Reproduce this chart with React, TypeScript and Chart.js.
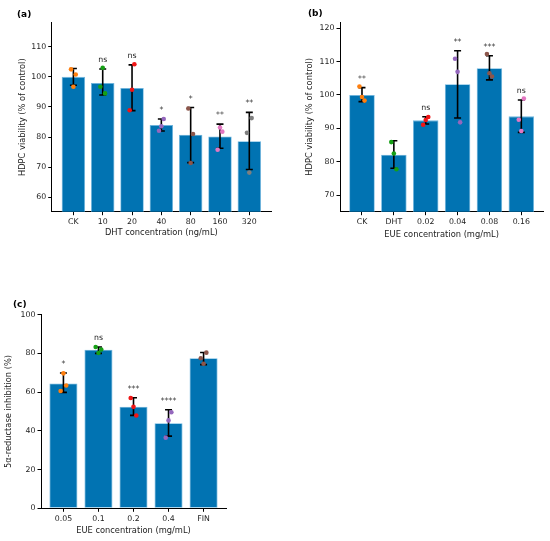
import { useEffect, useRef } from "react";
import { Chart, registerables } from "chart.js";

Chart.register(...registerables);

const FONT = "'DejaVu Sans', sans-serif";
const TEXT = "#222";
const BAR_COLOR = "#0173b2";
const BAR_EDGE = "#6fb6e0";
const DOT_COLORS = ["#ff7f0e", "#16a016", "#f01616", "#9467bd", "#8c564b", "#e377c2", "#7f7f7f"];
// replicate x offset (in category units): left, middle, right
const JITTER = [-0.08, 0, 0.08];

// (a) DHT concentration
const dhtLabels = ["CK", "10", "20", "40", "80", "160", "320"];
const dhtMeans = [100, 98.0, 96.3, 84.0, 80.8, 80.2, 78.6];
const dhtLow = [97.2, 94.0, 88.8, 82.0, 71.5, 76.3, 69.2];
const dhtHigh = [102.8, 102.6, 104.0, 86.0, 89.8, 84.3, 88.2];
const dhtReps = [
  [102.5, 96.7, 100.8],
  [96.7, 103.0, 94.5],
  [88.9, 95.7, 104.2],
  [82.1, 83.6, 86.0],
  [89.5, 71.4, 81.0],
  [75.8, 83.2, 81.8],
  [81.4, 68.2, 86.3],
];
const dhtSig = ["", "ns", "ns", "*", "*", "**", "**"];
const dhtTicks = [60, 70, 80, 90, 100, 110];

// (b) EUE concentration, viability
const eueLabels = ["CK", "DHT", "0.02", "0.04", "0.08", "0.16"];
const eueMeans = [100, 82.1, 92.4, 103.2, 108.0, 93.6];
const eueLow = [98.0, 78.1, 91.3, 93.1, 104.5, 88.8];
const eueHigh = [102.2, 86.3, 93.5, 113.2, 111.7, 98.5];
const eueReps = [
  [102.5, 99.4, 98.3],
  [85.9, 82.5, 77.8],
  [91.1, 92.5, 93.4],
  [110.8, 106.9, 91.8],
  [112.2, 106.5, 105.5],
  [92.6, 89.2, 98.9],
];
const eueSig = ["**", "", "ns", "**", "***", "ns"];
const eueTicks = [70, 80, 90, 100, 110, 120];

// (c) 5α-reductase inhibition
const inhLabels = ["0.05", "0.1", "0.2", "0.4", "FIN"];
const inhMeans = [64.5, 81.9, 52.5, 43.9, 77.5];
const inhLow = [59.9, 80.0, 48.0, 37.3, 74.2];
const inhHigh = [69.9, 83.3, 57.1, 50.9, 80.5];
const inhReps = [
  [60.6, 69.7, 63.4],
  [83.3, 80.2, 82.0],
  [57.0, 52.4, 47.9],
  [36.5, 45.4, 49.6],
  [77.5, 74.7, 80.4],
];
const inhSig = ["*", "ns", "***", "****", ""];
const inhTicks = [0, 20, 40, 60, 80, 100];

type Box = { left: number; top: number; width: number; height: number };
type Area = { left: number; top: number; right: number; bottom: number };

type PanelProps = {
  tag: string;
  tagX: number;
  tagY: number;
  labels: string[];
  means: number[];
  low: number[];
  high: number[];
  reps: number[][];
  sig: string[];
  yMin: number;
  yMax: number;
  yTicks: number[];
  xPad: number;
  xTitle: string;
  yTitle: string;
  box: Box;
  area: Area;
  yTitleX: number;
  xTitleY: number;
};

const Panel = (p: PanelProps) => {
  const canvasRef = useRef<HTMLCanvasElement | null>(null);
  const chartRef = useRef<Chart | null>(null);

  useEffect(() => {
    if (!canvasRef.current) return;
    const ctx = canvasRef.current.getContext("2d");
    if (!ctx) return;
    if (chartRef.current) chartRef.current.destroy();

    const tickSize = 7.8;
    const titleSize = 8.3;

    const dots: { x: number; y: number }[] = [];
    const dotColors: string[] = [];
    p.reps.forEach((group, i) => {
      group.forEach((v, j) => {
        dots.push({ x: i + JITTER[j], y: v });
        dotColors.push(DOT_COLORS[i]);
      });
    });

    const extras = {
      id: "extras",
      afterDatasetDraw(chart: Chart, args: { index: number }) {
        if (args.index !== 1) return;
        const c = chart.ctx;
        const xs = chart.scales.x;
        const ys = chart.scales.y;
        c.save();
        c.strokeStyle = "#000";
        c.lineWidth = 1.6;
        p.means.forEach((_, i) => {
          const x = xs.getPixelForValue(i);
          const y1 = ys.getPixelForValue(p.low[i]);
          const y2 = ys.getPixelForValue(p.high[i]);
          c.beginPath();
          c.moveTo(x, y1);
          c.lineTo(x, y2);
          c.moveTo(x - 3.5, y1);
          c.lineTo(x + 3.5, y1);
          c.moveTo(x - 3.5, y2);
          c.lineTo(x + 3.5, y2);
          c.stroke();
        });
        c.restore();
      },
      afterDatasetsDraw(chart: Chart) {
        const c = chart.ctx;
        const xs = chart.scales.x;
        const ys = chart.scales.y;
        c.save();
        c.fillStyle = TEXT;
        c.font = `${tickSize}px ${FONT}`;
        c.textAlign = "center";
        c.textBaseline = "alphabetic";
        p.sig.forEach((s, i) => {
          if (!s) return;
          c.fillText(s, xs.getPixelForValue(i), ys.getPixelForValue(p.high[i]) - 7);
        });
        c.font = `bold 9px ${FONT}`;
        c.textAlign = "left";
        c.textBaseline = "middle";
        c.fillStyle = "#000";
        c.fillText(p.tag, p.tagX, p.tagY);
        c.restore();
      },
    };

    const catTicks = p.labels.map((_, i) => ({ value: i }));
    const valTicks = p.yTicks.map((v) => ({ value: v }));

    chartRef.current = new Chart(ctx, {
      type: "bar",
      data: {
        datasets: [
          {
            type: "scatter",
            data: dots,
            pointBackgroundColor: dotColors,
            pointBorderWidth: 0,
            pointRadius: 2.3,
            order: 1,
          },
          {
            type: "bar",
            data: p.means.map((v, i) => ({ x: i, y: v })),
            backgroundColor: BAR_COLOR,
            borderColor: BAR_EDGE,
            borderWidth: 0.8,
            borderSkipped: false,
            barPercentage: 0.8,
            categoryPercentage: 1,
            order: 2,
          },
        ] as any,
      },
      options: {
        responsive: false,
        animation: false,
        devicePixelRatio: 1,
        layout: {
          padding: { left: 0, top: p.area.top, right: p.box.width - p.area.right, bottom: 0 },
        },
        plugins: {
          legend: { display: false },
          tooltip: { enabled: false },
        },
        scales: {
          x: {
            type: "linear",
            offset: false,
            min: -p.xPad,
            max: p.labels.length - 1 + p.xPad,
            afterBuildTicks: (s: any) => {
              s.ticks = catTicks;
            },
            afterFit: (s: any) => {
              s.height = p.box.height - p.area.bottom;
            },
            grid: { display: true, offset: false, drawOnChartArea: false, drawTicks: true, tickLength: 3.5, color: "#000" },
            border: { display: true, color: "#000", width: 1 },
            ticks: {
              color: TEXT,
              font: { family: FONT, size: tickSize },
              padding: 2,
              maxRotation: 0,
              autoSkip: false,
              callback: (v: any) => p.labels[Math.round(Number(v))] ?? "",
            },
            title: {
              display: true,
              text: p.xTitle,
              color: TEXT,
              font: { family: FONT, size: titleSize },
              padding: { top: 0, bottom: p.box.height - p.xTitleY - titleSize * 0.6 },
            },
          },
          y: {
            type: "linear",
            min: p.yMin,
            max: p.yMax,
            afterBuildTicks: (s: any) => {
              s.ticks = valTicks;
            },
            afterFit: (s: any) => {
              s.width = p.area.left;
            },
            grid: { display: true, drawOnChartArea: false, drawTicks: true, tickLength: 3.5, color: "#000" },
            border: { display: true, color: "#000", width: 1 },
            ticks: {
              color: TEXT,
              font: { family: FONT, size: tickSize },
              padding: 2,
            },
            title: {
              display: true,
              text: p.yTitle,
              color: TEXT,
              font: { family: FONT, size: titleSize },
              padding: { top: p.yTitleX - titleSize * 0.6, bottom: 0 },
            },
          },
        },
      },
      plugins: [extras as any],
    });

    return () => {
      if (chartRef.current) {
        chartRef.current.destroy();
        chartRef.current = null;
      }
    };
    // eslint-disable-next-line react-hooks/exhaustive-deps
  }, []);

  return (
    <div
      style={{
        position: "absolute",
        left: p.box.left,
        top: p.box.top,
        width: p.box.width,
        height: p.box.height,
      }}
    >
      <canvas
        ref={canvasRef}
        width={p.box.width}
        height={p.box.height}
        style={{ width: p.box.width, height: p.box.height, display: "block" }}
      ></canvas>
    </div>
  );
};

export default function App() {
  return (
    <div
      style={{
        position: "absolute",
        left: 0,
        top: 0,
        width: 550,
        height: 541,
        background: "#fff",
        overflow: "hidden",
      }}
    >
      <Panel
        tag="(a)"
        tagX={17}
        tagY={15}
        labels={dhtLabels}
        means={dhtMeans}
        low={dhtLow}
        high={dhtHigh}
        reps={dhtReps}
        sig={dhtSig}
        yMin={55.2}
        yMax={118}
        yTicks={dhtTicks}
        xPad={0.74}
        xTitle="DHT concentration (ng/mL)"
        yTitle="HDPC viability (% of control)"
        box={{ left: 0, top: 0, width: 275, height: 250 }}
        area={{ left: 51.7, top: 22.7, right: 274, bottom: 211.7 }}
        yTitleX={22.7}
        xTitleY={233}
      />
      <Panel
        tag="(b)"
        tagX={33}
        tagY={13.5}
        labels={eueLabels}
        means={eueMeans}
        low={eueLow}
        high={eueHigh}
        reps={eueReps}
        sig={eueSig}
        yMin={65.1}
        yMax={121.8}
        yTicks={eueTicks}
        xPad={0.69}
        xTitle="EUE concentration (mg/mL)"
        yTitle="HDPC viability (% of control)"
        box={{ left: 275, top: 0, width: 275, height: 250 }}
        area={{ left: 65, top: 22, right: 268.3, bottom: 211.7 }}
        yTitleX={35}
        xTitleY={235}
      />
      <Panel
        tag="(c)"
        tagX={13}
        tagY={15}
        labels={inhLabels}
        means={inhMeans}
        low={inhLow}
        high={inhHigh}
        reps={inhReps}
        sig={inhSig}
        yMin={0}
        yMax={100}
        yTicks={inhTicks}
        xPad={0.64}
        xTitle="EUE concentration (mg/mL)"
        yTitle="5α-reductase inhibition (%)"
        box={{ left: 0, top: 290, width: 275, height: 251 }}
        area={{ left: 41, top: 24.7, right: 226, bottom: 218.3 }}
        yTitleX={9}
        xTitleY={240.7}
      />
    </div>
  );
}
